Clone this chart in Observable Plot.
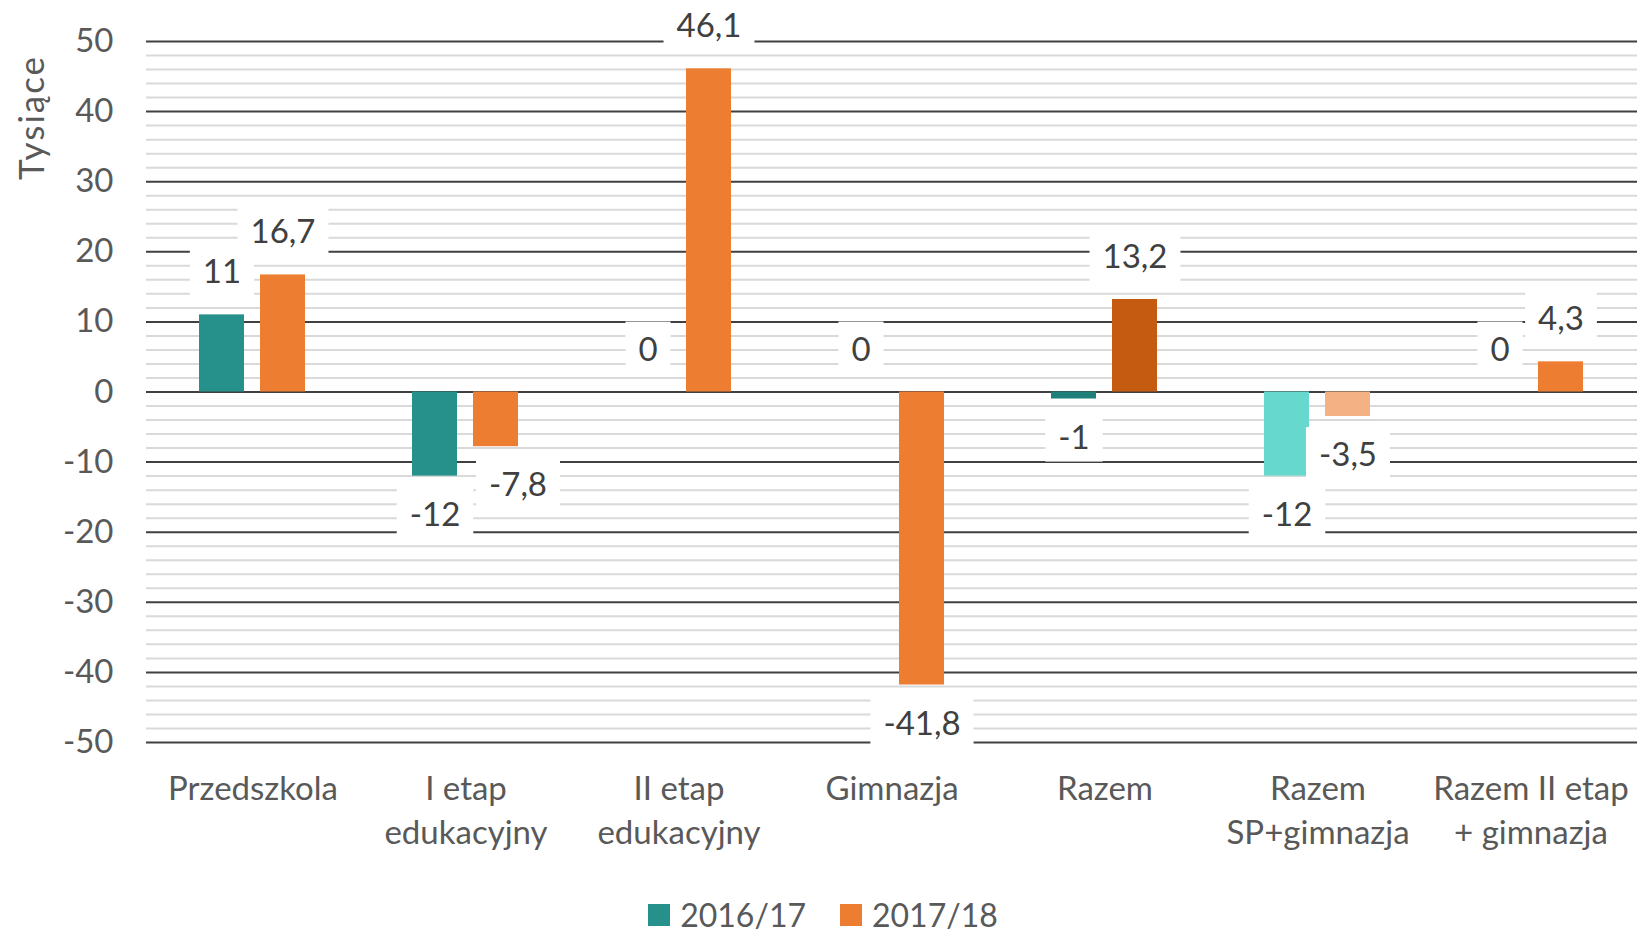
<!DOCTYPE html>
<html>
<head>
<meta charset="utf-8">
<script src="https://cdn.jsdelivr.net/npm/d3@7"></script>
<script src="https://cdn.jsdelivr.net/npm/@observablehq/plot@0.6"></script>
<style>
  html, body { margin: 0; padding: 0; background: #fff; overflow: hidden; }
  body { width: 1638px; height: 931px; font-family: Lato, "Open Sans", sans-serif; }
  #legend { display: flex; justify-content: center; align-items: center; padding-top: 8px; padding-left: 8px; line-height: 32px; height: 33px; font-size: 32px; color: #595959; }
  .item { display: flex; align-items: center; }
  .sw { width: 22px; height: 22px; margin-right: 10px; }
  .item + .item { margin-left: 34px; }
</style>
</head>
<body>
<div id="chart"></div>
<div id="legend"></div>
<script>
const categories = ["Przedszkola", "I etap\nedukacyjny", "II etap\nedukacyjny", "Gimnazja", "Razem", "Razem\nSP+gimnazja", "Razem II etap\n+ gimnazja"];
const seriesNames = ["2016/17", "2017/18"];
const values2016 = [11, -12, 0, 0, -1, -12, 0];
const values2017 = [16.7, -7.8, 46.1, -41.8, 13.2, -3.5, 4.3];
const seriesColors = ["#26918A", "#ED7D31"];
const barColors2016 = ["#26918A", "#26918A", "#26918A", "#26918A", "#1F8079", "#66D8CE", "#26918A"];
const barColors2017 = ["#ED7D31", "#ED7D31", "#ED7D31", "#ED7D31", "#C55A11", "#F4B183", "#ED7D31"];
const yTicks = [-50, -40, -30, -20, -10, 0, 10, 20, 30, 40, 50];
const minorTicks = [-48, -46, -44, -42, -38, -36, -34, -32, -28, -26, -24, -22, -18, -16, -14, -12, -8, -6, -4, -2,
                    2, 4, 6, 8, 12, 14, 16, 18, 22, 24, 26, 28, 32, 34, 36, 38, 42, 44, 46, 48];
const yTitle = "Tysiące";

const data = categories.flatMap((c, i) => [
  {cat: c, series: seriesNames[0], value: values2016[i], color: barColors2016[i]},
  {cat: c, series: seriesNames[1], value: values2017[i], color: barColors2017[i]}
]);
const fmt = v => String(v).replace(".", ",");
const shifted = d => d.cat === categories[1] && d.series === seriesNames[1];

const chart = Plot.plot({
  width: 1638,
  height: 890,
  marginLeft: 145,
  marginRight: 0,
  marginTop: 41,
  marginBottom: 148,
  style: {fontFamily: "Lato, 'Open Sans', sans-serif", fontSize: "33px", color: "#595959", background: "#fff"},
  fx: {domain: categories, padding: 0, label: null},
  x: {domain: seriesNames, paddingInner: 0.26, paddingOuter: 0.85, axis: null},
  y: {domain: [-50, 50], label: null},
  color: {type: "identity"},
  marks: [
    Plot.ruleY(minorTicks, {stroke: "#D9D9D9", strokeWidth: 2}),
    Plot.ruleY(yTicks, {stroke: "#404040", strokeWidth: 2}),
    Plot.barY(data, {fx: "cat", x: "series", y: "value", fill: "color"}),
    Plot.text(data, {filter: d => d.value >= 0, fx: "cat", x: "series", y: "value", text: d => fmt(d.value), dy: -42, fill: "#404040", fontSize: 33, ariaDescription: "data-labels"}),
    Plot.text(data, {filter: d => d.value < 0 && !shifted(d), fx: "cat", x: "series", y: "value", text: d => fmt(d.value), dy: 39, fill: "#404040", fontSize: 33, ariaDescription: "data-labels"}),
    Plot.text(data, {filter: d => d.value < 0 && shifted(d), fx: "cat", x: "series", y: "value", text: d => fmt(d.value), dy: 39, dx: 22, fill: "#404040", fontSize: 33, ariaDescription: "data-labels"}),
    Plot.axisY(yTicks, {tickSize: 0, tickPadding: 33, tickFormat: d => String(d), fill: "#595959", fontSize: 33, label: null}),
    Plot.axisFx({anchor: "bottom", tickSize: 0, tickPadding: 26, lineHeight: 1.34, fill: "#595959", fontSize: 33, label: null}),
    Plot.text([yTitle], {frameAnchor: "top-left", facetAnchor: "left", rotate: -90, textAnchor: "middle", lineAnchor: "middle", dx: -114, dy: 76, fill: "#595959", fontSize: 35, ariaDescription: "y-title"})
  ]
});
document.getElementById("chart").appendChild(chart);

// letter spacing of the rotated y title
document.querySelectorAll('g[aria-description="y-title"] text').forEach(t => t.setAttribute("letter-spacing", "2"));

// white boxes behind data labels (sized from each label's own text extent)
document.querySelectorAll('g[aria-description="data-labels"] text').forEach(t => {
  const b = t.getBBox();
  const r = document.createElementNS("http://www.w3.org/2000/svg", "rect");
  r.setAttribute("x", b.x - 13);
  r.setAttribute("y", b.y - 6);
  r.setAttribute("width", b.width + 26);
  r.setAttribute("height", b.height + 12);
  r.setAttribute("fill", "#ffffff");
  if (t.getAttribute("transform")) r.setAttribute("transform", t.getAttribute("transform"));
  const parent = t.parentNode;
  parent.insertBefore(r, parent.firstChild);
});

const legend = document.getElementById("legend");
seriesNames.forEach((s, i) => {
  const item = document.createElement("div");
  item.className = "item";
  const sw = document.createElement("span");
  sw.className = "sw";
  sw.style.background = seriesColors[i];
  const tx = document.createElement("span");
  tx.textContent = s;
  item.appendChild(sw);
  item.appendChild(tx);
  legend.appendChild(item);
});
</script>
</body>
</html>
